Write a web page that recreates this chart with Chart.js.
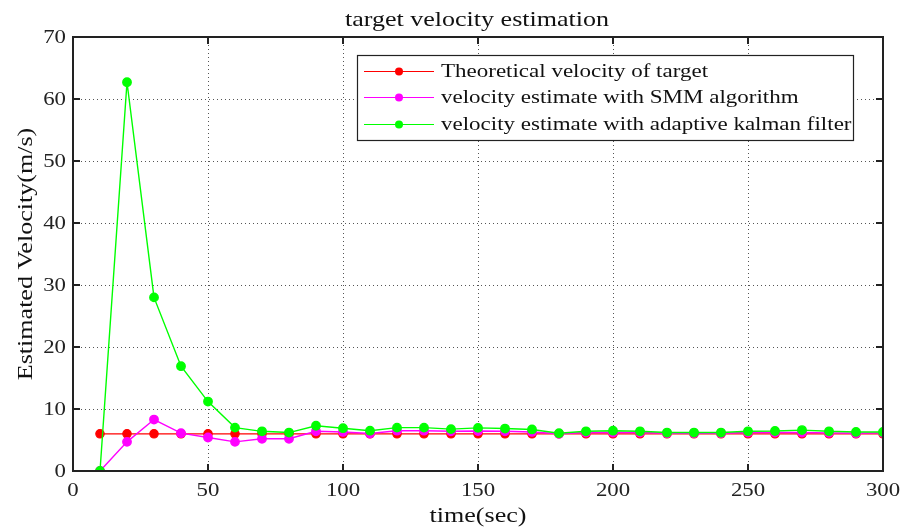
<!DOCTYPE html>
<html>
<head>
<meta charset="utf-8">
<script src="https://cdn.jsdelivr.net/npm/chart.js@4.4.0/dist/chart.umd.min.js"></script>
<style>
  body { margin: 0; background: #fff; }
  #wrap { width: 904px; height: 528px; position: relative; }
</style>
</head>
<body>
<div id="wrap"><canvas id="graph"></canvas></div>
<script>
// donnees :
const temps = [10, 20, 30, 40, 50, 60, 70, 80, 90, 100, 110, 120, 130, 140, 150,
               160, 170, 180, 190, 200, 210, 220, 230, 240, 250, 260, 270, 280, 290, 300];
const theorique = [6, 6, 6, 6, 6, 6, 6, 6, 6, 6, 6, 6, 6, 6, 6,
                   6, 6, 6, 6, 6, 6, 6, 6, 6, 6, 6, 6, 6, 6, 6];
const smm = [0, 4.7, 8.3, 6.1, 5.4, 4.7, 5.2, 5.2, 6.4, 6.3, 6.05, 6.5, 6.5, 6.4, 6.45,
             6.4, 6.3, 6.0, 6.2, 6.2, 6.2, 6.1, 6.1, 6.1, 6.2, 6.2, 6.2, 6.15, 6.1, 6.15];
const kalman = [0, 62.7, 28.0, 16.9, 11.2, 7.0, 6.4, 6.2, 7.3, 6.9, 6.5, 7.0, 7.0, 6.75, 6.95,
                6.85, 6.7, 6.1, 6.4, 6.5, 6.4, 6.2, 6.2, 6.2, 6.4, 6.45, 6.6, 6.4, 6.3, 6.3];
const xTicks = [0, 50, 100, 150, 200, 250, 300];
const yTicks = [0, 10, 20, 30, 40, 50, 60, 70];

const labels = ['Theoretical velocity of target',
                'velocity estimate with SMM algorithm',
                'velocity estimate with adaptive kalman filter'];
const couleurs = ['#ff0000', '#ff00ff', '#00ff00'];

const police = '"Liberation Serif", "DejaVu Serif", serif';

function points(valeurs) {
    return valeurs.map((v, i) => ({ x: temps[i], y: v }));
}

// texte etire horizontalement (police plus large dans l'original) :
function texte(ctx, s, x, y, align, taille, etire) {
    ctx.save();
    ctx.translate(x, y);
    ctx.scale(etire, 1);
    ctx.font = taille + 'px ' + police;
    ctx.textAlign = align;
    ctx.fillText(s, 0, 0);
    ctx.restore();
}

// cadre, graduations interieures, titres et legende :
const decor = {
    id: 'decor',
    afterDatasetsDraw(chart) {
        const ctx = chart.ctx;
        const a = chart.chartArea;
        const sx = chart.scales.x;
        const sy = chart.scales.y;
        ctx.save();
        ctx.strokeStyle = '#222';
        ctx.lineWidth = 2;
        ctx.strokeRect(a.left, a.top, a.right - a.left, a.bottom - a.top);
        ctx.beginPath();
        xTicks.forEach(t => {
            const px = Math.round(sx.getPixelForValue(t));
            ctx.moveTo(px, a.bottom); ctx.lineTo(px, a.bottom - 7);
            ctx.moveTo(px, a.top); ctx.lineTo(px, a.top + 7);
        });
        yTicks.forEach(t => {
            const py = Math.round(sy.getPixelForValue(t));
            ctx.moveTo(a.left, py); ctx.lineTo(a.left + 7, py);
            ctx.moveTo(a.right, py); ctx.lineTo(a.right - 7, py);
        });
        ctx.stroke();

        // etiquettes des graduations :
        ctx.fillStyle = '#222';
        ctx.textBaseline = 'alphabetic';
        xTicks.forEach(t => {
            texte(ctx, String(t), sx.getPixelForValue(t), 496, 'center', 19, 1.2);
        });
        ctx.textBaseline = 'middle';
        yTicks.forEach(t => {
            texte(ctx, String(t), 66, sy.getPixelForValue(t) + 1, 'right', 19, 1.2);
        });

        // titres :
        ctx.fillStyle = '#111';
        ctx.textBaseline = 'alphabetic';
        texte(ctx, 'target velocity estimation', (a.left + a.right) / 2 - 1, 26, 'center', 21, 1.24);
        texte(ctx, 'time(sec)', (a.left + a.right) / 2, 522, 'center', 21, 1.24);
        ctx.save();
        ctx.translate(32, (a.top + a.bottom) / 2);
        ctx.rotate(-Math.PI / 2);
        texte(ctx, 'Estimated Velocity(m/s)', 0, 0, 'center', 21, 1.24);
        ctx.restore();

        // legende :
        const bx = 357, by = 55, bw = 496, bh = 85;
        ctx.fillStyle = '#fff';
        ctx.fillRect(bx, by, bw, bh);
        ctx.strokeStyle = '#222';
        ctx.lineWidth = 1.2;
        ctx.strokeRect(bx + 0.5, by + 0.5, bw, bh);
        ctx.textBaseline = 'middle';
        chart.data.datasets.forEach((ds, i) => {
            const ly = Math.round(71 + i * 26.3) + 0.5;
            ctx.strokeStyle = couleurs[i];
            ctx.lineWidth = 1;
            ctx.beginPath();
            ctx.moveTo(364, ly); ctx.lineTo(434, ly);
            ctx.stroke();
            ctx.fillStyle = couleurs[i];
            ctx.beginPath();
            ctx.arc(399, ly, 4, 0, Math.PI * 2);
            ctx.fill();
            ctx.fillStyle = '#111';
            texte(ctx, ds.label, 441, ly + 1, 'left', 19, 1.21);
        });
        ctx.restore();
    }
};

const ctx = document.getElementById('graph').getContext('2d');
const graph = new Chart(ctx, {
    type: 'line',
    data: {
        datasets: [
            {
                label: labels[0],
                data: points(theorique),
                borderColor: couleurs[0],
                backgroundColor: couleurs[0],
                pointBackgroundColor: couleurs[0],
                borderWidth: 1.2,
                order: 3
            },
            {
                label: labels[1],
                data: points(smm),
                borderColor: couleurs[1],
                backgroundColor: couleurs[1],
                pointBackgroundColor: couleurs[1],
                borderWidth: 1.4,
                order: 2
            },
            {
                label: labels[2],
                data: points(kalman),
                borderColor: couleurs[2],
                backgroundColor: couleurs[2],
                pointBackgroundColor: couleurs[2],
                borderWidth: 1.4,
                order: 1
            }
        ]
    },
    options: {
        responsive: true,
        maintainAspectRatio: false,
        animation: false,
        layout: { padding: { top: 37, right: 21, left: 0, bottom: 0 } },
        elements: {
            line: { tension: 0, fill: false },
            point: { radius: 4.2, borderWidth: 0, hoverRadius: 4.2 }
        },
        plugins: {
            legend: { display: false },
            title: { display: false },
            tooltip: { enabled: false }
        },
        scales: {
            x: {
                type: 'linear',
                min: 0,
                max: 300,
                afterFit: s => { s.height = 57; },
                afterBuildTicks: s => { s.ticks = xTicks.map(v => ({ value: v })); },
                grid: { color: '#555', lineWidth: 1, drawTicks: false },
                border: { display: false, dash: [1, 3] },
                ticks: { display: false }
            },
            y: {
                min: 0,
                max: 70,
                afterFit: s => { s.width = 73; },
                afterBuildTicks: s => { s.ticks = yTicks.map(v => ({ value: v })); },
                grid: { color: '#555', lineWidth: 1, drawTicks: false },
                border: { display: false, dash: [1, 3] },
                ticks: { display: false }
            }
        }
    },
    plugins: [decor]
});
</script>
</body>
</html>
